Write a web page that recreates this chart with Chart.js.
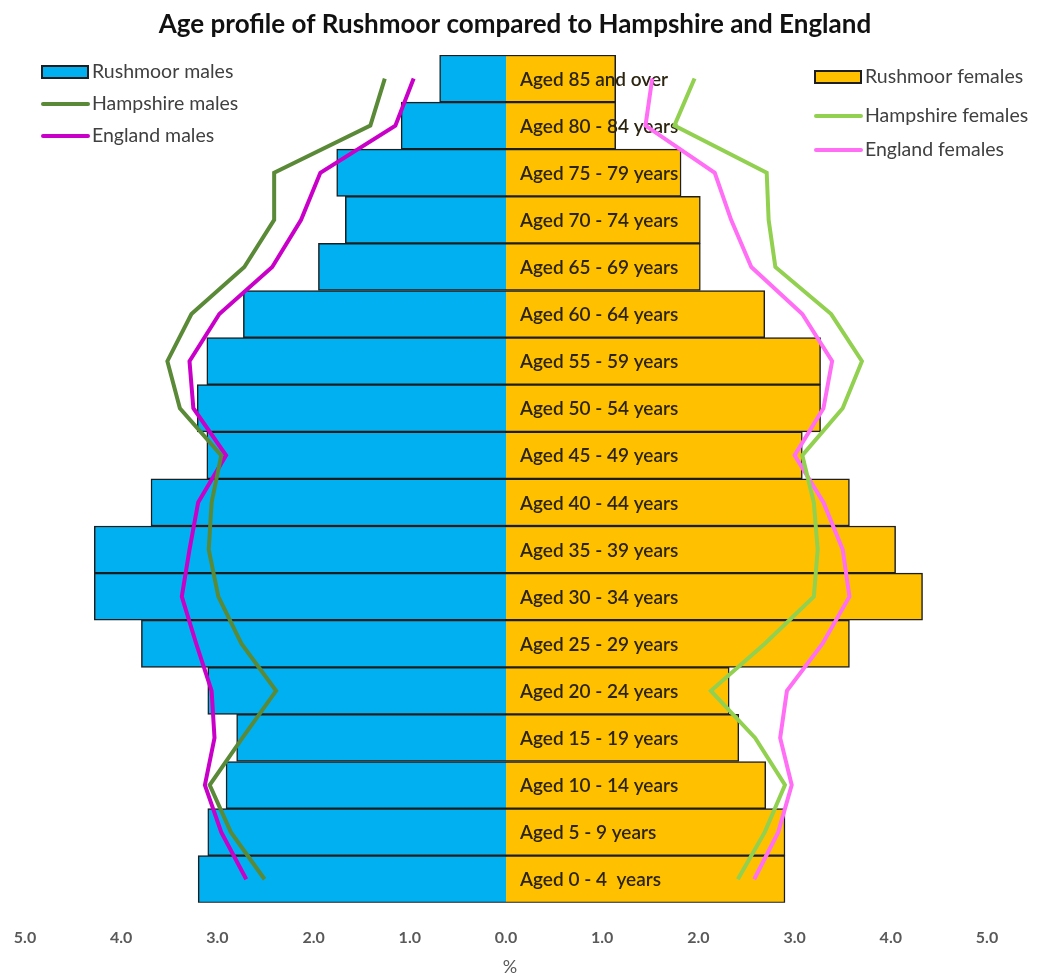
<!DOCTYPE html>
<html>
<head>
<meta charset="utf-8">
<title>Age profile of Rushmoor</title>
<script src="https://cdn.jsdelivr.net/npm/chart.js@4/dist/chart.umd.min.js"></script>
<style>
  html, body { margin: 0; padding: 0; background: #ffffff; }
  canvas { display: block; }
</style>
</head>
<body>
<canvas id="pyramid" width="1037" height="977"></canvas>
<script>
const chartTitle = 'Age profile of Rushmoor compared to Hampshire and England';

// Age bands, oldest at the top of the pyramid
const ageGroups = [
  'Aged 85 and over', 'Aged 80 - 84 years', 'Aged 75 - 79 years', 'Aged 70 - 74 years',
  'Aged 65 - 69 years', 'Aged 60 - 64 years', 'Aged 55 - 59 years', 'Aged 50 - 54 years',
  'Aged 45 - 49 years', 'Aged 40 - 44 years', 'Aged 35 - 39 years', 'Aged 30 - 34 years',
  'Aged 25 - 29 years', 'Aged 20 - 24 years', 'Aged 15 - 19 years', 'Aged 10 - 14 years',
  'Aged 5 - 9 years', 'Aged 0 - 4  years'
];

// Share of the total population in each band (%)
const rushmoorMales    = [0.69, 1.09, 1.76, 1.67, 1.95, 2.73, 3.11, 3.21, 3.11, 3.69, 4.28, 4.28, 3.79, 3.10, 2.80, 2.91, 3.10, 3.20];
const hampshireMales   = [1.26, 1.41, 2.41, 2.41, 2.72, 3.27, 3.52, 3.39, 2.96, 3.06, 3.09, 2.99, 2.75, 2.39, 2.74, 3.08, 2.86, 2.51];
const englandMales     = [0.96, 1.15, 1.93, 2.13, 2.43, 2.98, 3.29, 3.25, 2.91, 3.20, 3.29, 3.37, 3.22, 3.06, 3.03, 3.13, 2.96, 2.70];
const rushmoorFemales  = [1.14, 1.14, 1.82, 2.02, 2.02, 2.69, 3.27, 3.27, 3.08, 3.57, 4.05, 4.33, 3.57, 2.32, 2.42, 2.70, 2.90, 2.90];
const hampshireFemales = [1.96, 1.75, 2.71, 2.73, 2.80, 3.38, 3.70, 3.50, 3.08, 3.20, 3.24, 3.20, 2.69, 2.13, 2.59, 2.90, 2.69, 2.41];
const englandFemales   = [1.52, 1.45, 2.17, 2.34, 2.55, 3.08, 3.39, 3.30, 3.00, 3.30, 3.50, 3.57, 3.29, 2.92, 2.85, 2.97, 2.83, 2.58];

// Axis tick values (shown without sign on both sides)
const axisTicks = [-5, -4, -3, -2, -1, 0, 1, 2, 3, 4, 5];

const FONT = 'Lato, "Open Sans", "DejaVu Sans", sans-serif';
const toLeft = arr => arr.map(v => -v);

const barStyle = {
  type: 'bar',
  grouped: false,
  barPercentage: 1,
  categoryPercentage: 1,
  borderColor: '#1e1e1e',
  borderWidth: 1.5
};
const lineStyle = {
  type: 'line',
  borderWidth: 4,
  pointRadius: 0,
  pointHoverRadius: 0,
  tension: 0,
  fill: false,
  order: 1
};

const datasets = [
  Object.assign({}, barStyle, { label: 'Rushmoor males', data: toLeft(rushmoorMales), backgroundColor: '#00B0F0', order: 3 }),
  Object.assign({}, lineStyle, { label: 'Hampshire males', data: toLeft(hampshireMales), borderColor: '#5A8A37' }),
  Object.assign({}, lineStyle, { label: 'England males', data: toLeft(englandMales), borderColor: '#C800C8' }),
  Object.assign({}, barStyle, { label: 'Rushmoor females', data: rushmoorFemales, backgroundColor: '#FFC000', order: 2 }),
  Object.assign({}, lineStyle, { label: 'Hampshire females', data: hampshireFemales, borderColor: '#92D050' }),
  Object.assign({}, lineStyle, { label: 'England females', data: englandFemales, borderColor: '#FF6EF5' })
];

// Age band names written along the zero line, over the bars but under the lines
const bandLabels = {
  id: 'bandLabels',
  afterDatasetDraw(chart, args) {
    if (args.index !== 3) return;
    const ctx = chart.ctx;
    const x = chart.scales.x.getPixelForValue(0) + 14;
    const y = chart.scales.y;
    ctx.save();
    ctx.font = '600 19px ' + FONT;
    ctx.fillStyle = '#2b2410';
    ctx.textAlign = 'left';
    ctx.textBaseline = 'middle';
    chart.data.labels.forEach((lab, i) => {
      ctx.fillText(lab, x, y.getPixelForValue(i) + 1);
    });
    ctx.restore();
  }
};

// Heading, unit caption under the zero tick
const captions = {
  id: 'captions',
  afterDraw(chart) {
    const ctx = chart.ctx;
    ctx.save();
    ctx.textAlign = 'center';
    ctx.textBaseline = 'middle';
    ctx.font = 'bold 26px ' + FONT;
    ctx.fillStyle = '#111111';
    ctx.fillText(chartTitle, 515, 25);
    ctx.font = '18px ' + FONT;
    ctx.fillStyle = '#595959';
    ctx.fillText('%', chart.scales.x.getPixelForValue(0) + 4, 967);
    ctx.restore();
  }
};

// Two legend blocks: males top-left, females top-right
const splitLegend = {
  id: 'splitLegend',
  afterDraw(chart) {
    const ctx = chart.ctx;
    const groups = [
      { x: 42, ys: [72, 104, 136], items: [0, 1, 2] },
      { x: 815, ys: [77, 116, 150], items: [3, 4, 5] }
    ];
    ctx.save();
    ctx.font = '19.5px ' + FONT;
    ctx.textBaseline = 'middle';
    ctx.textAlign = 'left';
    groups.forEach(g => {
      g.items.forEach((di, k) => {
        const ds = chart.data.datasets[di];
        const y = g.ys[k];
        if (ds.type === 'bar') {
          ctx.fillStyle = ds.backgroundColor;
          ctx.fillRect(g.x, y - 6, 46, 12);
          ctx.lineWidth = 2;
          ctx.strokeStyle = '#1e1e1e';
          ctx.strokeRect(g.x, y - 6, 46, 12);
        } else {
          ctx.lineWidth = 4;
          ctx.strokeStyle = ds.borderColor;
          ctx.lineCap = 'round';
          ctx.beginPath();
          ctx.moveTo(g.x + 1, y);
          ctx.lineTo(g.x + 46, y);
          ctx.stroke();
        }
        ctx.fillStyle = '#404040';
        ctx.fillText(ds.label, g.x + 50, y);
      });
    });
    ctx.restore();
  }
};

new Chart(document.getElementById('pyramid'), {
  data: { labels: ageGroups, datasets: datasets },
  options: {
    indexAxis: 'y',
    responsive: false,
    animation: false,
    layout: { padding: { left: 25, right: 50, top: 55, bottom: 27 } },
    plugins: {
      legend: { display: false },
      tooltip: { enabled: false },
      title: { display: false }
    },
    scales: {
      x: {
        type: 'linear',
        min: -5,
        max: 5,
        afterBuildTicks(scale) { scale.ticks = axisTicks.map(v => ({ value: v })); },
        grid: { display: false, drawTicks: true, tickLength: 22 },
        border: { display: false },
        ticks: {
          padding: 3,
          color: '#595959',
          font: { family: FONT, size: 16, weight: 'bold', lineHeight: 1.2 },
          callback: v => Math.abs(v).toFixed(1)
        }
      },
      y: {
        type: 'category',
        display: false,
        offset: true,
        grid: { display: false }
      }
    }
  },
  plugins: [bandLabels, captions, splitLegend]
});
</script>
</body>
</html>
